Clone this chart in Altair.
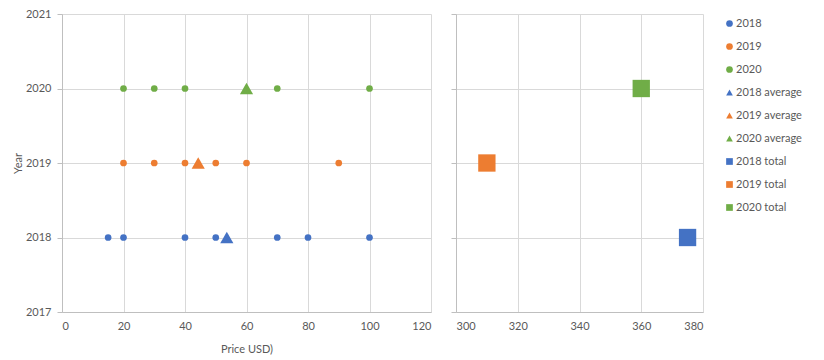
import altair as alt
import pandas as pd

colors = ["#4472C4", "#ED7D31", "#70AD47"]
years = [2018, 2019, 2020]
prices_2018 = [15, 20, 40, 50, 70, 80, 100]
prices_2019 = [20, 30, 40, 50, 60, 90]
prices_2020 = [20, 30, 40, 70, 100]
averages = [53.6, 44.3, 60]
totals = [375, 310, 360]

rows = []
for yr, vals in zip(years, [prices_2018, prices_2019, prices_2020]):
    for v in vals:
        rows.append({"series": str(yr), "price": v, "year": yr, "kind": "point", "panel": "left"})
for yr, v in zip(years, averages):
    rows.append({"series": f"{yr} average", "price": v, "year": yr, "kind": "avg", "panel": "left"})
for yr, v in zip(years, totals):
    rows.append({"series": f"{yr} total", "price": v, "year": yr, "kind": "total", "panel": "right"})
df = pd.DataFrame(rows)

series_order = [str(y) for y in years] + [f"{y} average" for y in years] + [f"{y} total" for y in years]
color_scale = alt.Scale(domain=series_order, range=colors * 3)
shape_scale = alt.Scale(domain=series_order,
                        range=["circle"] * 3 + ["triangle-up"] * 3 + ["square"] * 3)
size_scale = alt.Scale(domain=["point", "avg", "total"], range=[45, 300, 175])

FONT = "Lato"
LBL = "#595959"
GRID = "#D9D9D9"

y_left = alt.Y("year:Q", scale=alt.Scale(domain=[2017, 2021], nice=False, zero=False),
               axis=alt.Axis(title="Year", values=[2017, 2018, 2019, 2020, 2021], format="d",
                             tickSize=5, tickColor="#BFBFBF", labelPadding=6, titlePadding=2))
y_right = alt.Y("year:Q", scale=alt.Scale(domain=[2017, 2021], nice=False, zero=False),
                axis=alt.Axis(title=None, values=[2017, 2018, 2019, 2020, 2021], labels=False,
                              tickSize=5, tickColor="#BFBFBF"))

enc_common = dict(
    color=alt.Color("series:N", scale=color_scale, legend=alt.Legend(title=None)),
    shape=alt.Shape("series:N", scale=shape_scale, legend=alt.Legend(title=None)),
    size=alt.Size("kind:N", scale=size_scale, legend=None),
)

left = alt.Chart(df).transform_filter(alt.datum.panel == "left").mark_point(
    filled=True, opacity=1).encode(
    x=alt.X("price:Q", scale=alt.Scale(domain=[0, 120], nice=False),
            axis=alt.Axis(title="Price USD)", values=[0, 20, 40, 60, 80, 100, 120],
                          ticks=False, labelPadding=8, titlePadding=12)),
    y=y_left, **enc_common
).properties(width=369, height=298)

right = alt.Chart(df).transform_filter(alt.datum.panel == "right").mark_point(
    filled=True, opacity=1).encode(
    x=alt.X("price:Q", scale=alt.Scale(domain=[300, 380], nice=False, zero=False),
            axis=alt.Axis(title=None, values=[300, 320, 340, 360, 380],
                          ticks=False, labelPadding=8)),
    y=y_right, **enc_common
).properties(width=247, height=298)

chart = alt.hconcat(left, right, spacing=25, bounds="flush").properties(
    padding={"left": 4, "top": 0, "right": 5, "bottom": 5}
).configure_view(stroke=None).configure_axis(
    labelFont=FONT, titleFont=FONT, labelFontSize=11, titleFontSize=11,
    labelColor=LBL, titleColor=LBL, titleFontWeight="normal",
    gridColor=GRID, domainColor="#BFBFBF", grid=True
).configure_legend(
    labelFont=FONT, labelFontSize=11, labelColor=LBL, symbolSize=45,
    rowPadding=11, offset=17, orient="right", labelOffset=1,
    symbolStrokeWidth=0, padding=4
)

chart.save("out.html", embed_options={"renderer": "svg", "actions": False})
